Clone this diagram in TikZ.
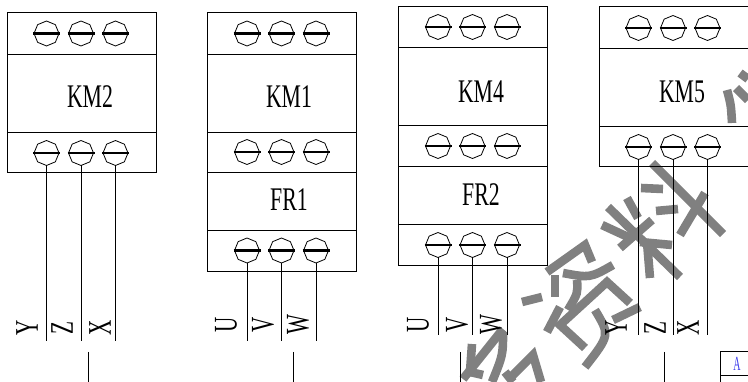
\documentclass[tikz,border=0pt]{standalone}
\usepackage{fontspec}
\setmainfont{Liberation Serif}
\usepackage{tikz}
\usetikzlibrary{shapes.geometric, positioning}
\definecolor{mark}{RGB}{128, 128, 128}
\definecolor{tag}{RGB}{60, 60, 235}
\tikzset{
    cell/.style={rectangle, draw=black, line width=1pt, minimum width=149pt, inner sep=0pt, outer sep=0pt},
    screw/.style={regular polygon, regular polygon sides=8, shape border rotate=22.5, draw=black, line width=.8pt, minimum size=25pt, inner sep=0pt, outer sep=0pt},
    slot/.style={line width=2.6pt, shorten >=-1pt, shorten <=-1pt},
    wire/.style={line width=.9pt},
    devlabel/.style={font=\fontsize{33}{33}\selectfont, xscale=.66, inner sep=0pt},
    wirelabel/.style={font=\fontsize{33}{33}\selectfont, rotate=90, xscale=.64, inner sep=0pt},
    stroke/.style={draw=mark, line width=8.6pt},
}
% row of three terminals: name, left edge of the box, height
\newcommand{\screws}[3]{
  \foreach \n/\dx in {a/39.5,b/74,c/108.5} {
    \node[screw] (#1\n) at ({#2+\dx},#3) {};
    \draw[slot] (#1\n.west) -- (#1\n.east);
  }
}
% wires leaving a row of terminals
\newcommand{\wires}[2]{
  \foreach \n in {a,b,c} {
    \coordinate (#1end\n) at (#1\n.south |- 0,#2);
    \draw[wire] (#1\n.south) -- (#1end\n);
  }
}
\begin{document}
\begin{tikzpicture}[x=1pt,y=-1pt]
  \useasboundingbox (0,0) rectangle (748,382);

  % watermark
  \draw[stroke] (652,163) -- (723,234);
  \draw[stroke] (705,193) -- (680,235);
  \draw[stroke] (641,188) -- (663,189);
  \draw[stroke] (656,211) -- (678,209);
  \draw[stroke] (608,207) -- (680,277);
  \draw[stroke] (627,198) -- (638,218);
  \draw[stroke] (602,225) -- (628,237);
  \draw[stroke] (652,220) -- (620,248);
  \draw[stroke] (640,242) -- (672,245);
  \draw[stroke] (650,278) -- (647,242);
  \draw[stroke] (640,307) -- (613,320);
  \draw[stroke] (727,90) .. controls (731,105) .. (732,123);
  \draw[stroke] (736,88) -- (748,100);
  \draw[stroke] (740,73) -- (748,79);
  \draw[stroke] (522,302) -- (542,297);
  \draw[stroke] (547,332) -- (560,307);
  \draw[stroke] (547,272) -- (585,245) -- (592,262);
  \draw[stroke] (555,297) -- (555,275);
  \draw[stroke] (563,273) .. controls (590,278) .. (613,265);
  \draw[stroke] (577,280) .. controls (578,293) .. (568,310);
  \draw[stroke] (585,348) -- (560,325) -- (607,282) -- (630,303);
  \draw[stroke] (595,310) .. controls (610,335) .. (585,367);
  \draw[stroke] (503,329) -- (463,379);
  \draw[stroke] (472,344) -- (470,372) -- (483,375);
  \draw[stroke] (503,332) .. controls (503,355) .. (492,382);
  \draw[stroke] (505,372) -- (513,382);
  \draw[stroke] (508,380) -- (533,355) -- (541,382);

  % KM2
  \node[cell, minimum height=41.5pt, anchor=north west] (KM2top) at (7,13) {};
  \node[cell, minimum height=78pt, below=0pt of KM2top] (KM2mid) {};
  \node[cell, minimum height=40.5pt, below=0pt of KM2mid] (KM2bot) {};
  \node[devlabel] (KM2) at (90,97) {KM2};
  \screws{KM2up}{7}{33.5}
  \screws{KM2low}{7}{153}
  \wires{KM2low}{341}
  \node[wirelabel] (Y1) at (27,328) {Y};
  \node[wirelabel] (Z1) at (62,328) {Z};
  \node[wirelabel] (X1) at (100,328) {X};

  % KM1 and FR1
  \node[cell, minimum height=41.5pt, anchor=north west] (KM1top) at (207.5,13) {};
  \node[cell, minimum height=78pt, below=0pt of KM1top] (KM1mid) {};
  \node[cell, minimum height=40.5pt, below=0pt of KM1mid] (KM1bot) {};
  \node[cell, minimum height=57.5pt, below=0pt of KM1bot] (FR1mid) {};
  \node[cell, minimum height=41pt, below=0pt of FR1mid] (FR1bot) {};
  \node[devlabel] (KM1) at (289,97) {KM1};
  \node[devlabel] (FR1) at (289,200) {FR1};
  \screws{KM1up}{207.5}{33.5}
  \screws{KM1low}{207.5}{152}
  \screws{FR1low}{207.5}{250.5}
  \wires{FR1low}{341}
  \node[wirelabel] (U1) at (226,325) {U};
  \node[wirelabel] (V1) at (263,325) {V};
  \node[wirelabel] (W1) at (298,325) {W};

  % KM4 and FR2
  \node[cell, minimum height=40.5pt, anchor=north west] (KM4top) at (398.5,7) {};
  \node[cell, minimum height=78.5pt, below=0pt of KM4top] (KM4mid) {};
  \node[cell, minimum height=41pt, below=0pt of KM4mid] (KM4bot) {};
  \node[cell, minimum height=57.5pt, below=0pt of KM4bot] (FR2mid) {};
  \node[cell, minimum height=41.5pt, below=0pt of FR2mid] (FR2bot) {};
  \node[devlabel] (KM4) at (481,92) {KM4};
  \node[devlabel] (FR2) at (481,195) {FR2};
  \screws{KM4up}{398.5}{27}
  \screws{KM4low}{398.5}{146}
  \screws{FR2low}{398.5}{245}
  \wires{FR2low}{335.5}
  \node[wirelabel] (U2) at (418,325) {U};
  \node[wirelabel] (V2) at (457,325) {V};
  \node[wirelabel] (W2) at (491,325) {W};

  % KM5
  \node[cell, minimum height=41.5pt, anchor=north west] (KM5top) at (599,7) {};
  \node[cell, minimum height=78.5pt, below=0pt of KM5top] (KM5mid) {};
  \node[cell, minimum height=40pt, below=0pt of KM5mid] (KM5bot) {};
  \node[devlabel] (KM5) at (682,92) {KM5};
  \screws{KM5up}{599}{28}
  \screws{KM5low}{599}{147}
  \wires{KM5low}{335.5}
  \node[wirelabel] (Y2) at (616,328) {Y};
  \node[wirelabel] (Z2) at (655,328) {Z};
  \node[wirelabel] (X2) at (688,328) {X};

  % next row, cut off by the page
  \foreach \n/\x in {a/88.5,b/293,c/460,d/664} {
    \coordinate (stub\n top) at (\x,352);
    \coordinate (stub\n end) at (\x,382);
    \draw[wire] (stub\n top) -- (stub\n end);
  }
  \node[cell, minimum width=40pt, minimum height=24pt, anchor=north west] (tagtop) at (720,352) {};
  \node[cell, minimum width=40pt, minimum height=24pt, below=0pt of tagtop] (tagbot) {};
  \node[text=tag, font=\fontsize{20}{20}\selectfont, xscale=.5, inner sep=0pt] (tagA) at (737,364) {A};
\end{tikzpicture}
\end{document}
